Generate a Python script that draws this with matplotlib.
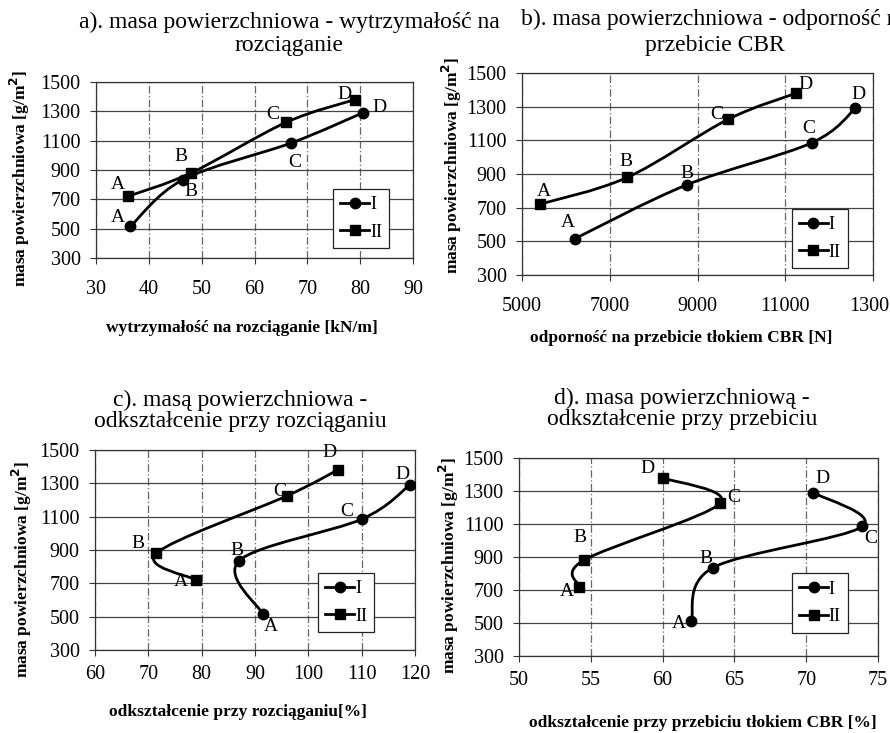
import matplotlib
matplotlib.use('Agg')
import matplotlib.pyplot as plt
import matplotlib.transforms as mtransforms
from matplotlib.path import Path
from matplotlib.patches import PathPatch
from matplotlib.lines import Line2D

plt.rcParams['font.family'] = ['Liberation Serif', 'DejaVu Serif']

# data
points = ['A', 'B', 'C', 'D']
mass_I = [515, 835, 1085, 1290]
mass_II = [720, 880, 1225, 1380]

strength_I = [36.5, 46.5, 67, 80.5]
strength_II = [36, 48, 66, 79]

cbr_I = [6200, 8750, 11600, 12600]
cbr_II = [5400, 7400, 9700, 11250]

elong_I = [91.5, 87, 110, 119]
elong_II = [79, 71.5, 96, 105.5]

cbr_elong_I = [62, 63.5, 73.9, 70.5]
cbr_elong_II = [54.2, 54.5, 64, 60]

y_ticks = [300, 500, 700, 900, 1100, 1300, 1500]

W, H = 890, 733
fig = plt.figure(figsize=(W / 100, H / 100), dpi=100)


def px_axes(l, t, r, b):
    return fig.add_axes([l / W, 1 - b / H, (r - l) / W, (b - t) / H])


def smooth_path(xs, ys):
    # Catmull-Rom through the data points, drawn as cubic bezier
    pts = list(zip(xs, ys))
    n = len(pts)
    verts = [pts[0]]
    codes = [Path.MOVETO]
    for i in range(n - 1):
        p0 = pts[i - 1] if i > 0 else pts[i]
        p1 = pts[i]
        p2 = pts[i + 1]
        p3 = pts[i + 2] if i + 2 < n else pts[i + 1]
        c1 = (p1[0] + (p2[0] - p0[0]) / 6, p1[1] + (p2[1] - p0[1]) / 6)
        c2 = (p2[0] - (p3[0] - p1[0]) / 6, p2[1] - (p3[1] - p1[1]) / 6)
        verts += [c1, c2, p2]
        codes += [Path.CURVE4] * 3
    return Path(verts, codes)


def panel(ax, x_I, x_II, xlim, xticks, xticklabels, offs_I, offs_II, leg_anchor, xpad):
    ax.set_xlim(*xlim)
    ax.set_ylim(300, 1500)
    ax.set_xticks(xticks)
    ax.set_xticklabels(xticklabels)
    ax.set_yticks(y_ticks)
    ax.tick_params(labelsize=14.5, direction='out', length=4, width=0.8, color='#333')
    ax.tick_params(axis='x', pad=xpad)
    ax.tick_params(axis='y', pad=7)
    ax.grid(axis='y', color='#444', linewidth=0.9, linestyle='-')
    ax.grid(axis='x', color='#666', linewidth=0.9, linestyle=(0, (6, 2, 1, 2)))
    for s in ax.spines.values():
        s.set_color('#333')
        s.set_linewidth(0.9)

    for xs, ys, mk, offs in [(x_I, mass_I, 'o', offs_I), (x_II, mass_II, 's', offs_II)]:
        ax.add_patch(PathPatch(smooth_path(xs, ys), facecolor='none',
                               edgecolor='black', linewidth=2.0, zorder=3))
        ax.plot(xs, ys, mk, color='black', markersize=7.5, zorder=4)
        for x, y, lab, (dx, dy) in zip(xs, ys, points, offs):
            ax.annotate(lab, (x, y), xytext=(dx * 0.72, -dy * 0.72),
                        textcoords='offset points', ha='center', va='center',
                        fontsize=14, zorder=5)

    handles = [Line2D([], [], color='black', lw=2, marker='o', ms=7.5),
               Line2D([], [], color='black', lw=2, marker='s', ms=7.5)]
    leg = ax.legend(handles, ['I', 'II'], loc='lower left', bbox_to_anchor=leg_anchor,
                    fontsize=13, handlelength=1.6, handletextpad=0.05,
                    labelspacing=0.6, borderpad=0.4, borderaxespad=0, fancybox=False,
                    framealpha=1, edgecolor='#222')
    leg.get_frame().set_linewidth(0.9)


# a)
ax_a = px_axes(96, 82, 413, 258)
panel(ax_a, strength_I, strength_II, (30, 90), [30, 40, 50, 60, 70, 80, 90],
      ['30', '40', '50', '60', '70', '80', '90'],
      [(-12, -9), (8, 12), (3, 20), (17, -5)],
      [(-10, -12), (-10, -16), (-13, -8), (-10, -5)],
      (0.748, 0.057), 12)

# b)
ax_b = px_axes(522, 73, 873, 275)
panel(ax_b, cbr_I, cbr_II, (5000, 13000), [5000, 7000, 9000, 11000, 13000],
      ['5000', '7000', '9000', '11000', '1300'],
      [(-7, -16), (0, -11), (-3, -14), (3, -14)],
      [(4, -13), (-1, -16), (-11, -5), (9, -9)],
      (0.768, 0.035), 12)
# last label sits a little left of its tick in the original
last = ax_b.get_xticklabels()[-1]
last.set_transform(last.get_transform() +
                   mtransforms.ScaledTranslation(-4 / 100, 0, fig.dpi_scale_trans))

# c)
ax_c = px_axes(95, 450, 415, 650)
panel(ax_c, elong_I, elong_II, (60, 120), [60, 70, 80, 90, 100, 110, 120],
      ['60', '70', '80', '90', '100', '110', '120'],
      [(8, 12), (-2, -10), (-15, -8), (-7, -10)],
      [(-15, 2), (-18, -10), (-7, -4), (-8, -17)],
      (0.697, 0.09), 7)

# d)
ax_d = px_axes(519, 458, 878, 656)
panel(ax_d, cbr_elong_I, cbr_elong_II, (50, 75), [50, 55, 60, 65, 70, 75],
      ['50', '55', '60', '65', '70', '75'],
      [(-12, 3), (-7, -9), (9, 12), (9, -14)],
      [(-12, 5), (-4, -23), (14, -6), (-15, -9)],
      (0.76, 0.118), 7)


def ftext(x, y, s, **kw):
    fig.text(x / W, 1 - y / H, s, **kw)


# titles
ftext(289, 34, 'a). masa powierzchniowa - wytrzymałość na\nrozciąganie',
      ha='center', va='center', fontsize=17, linespacing=1.1)
ftext(521, 19, 'b). masa powierzchniowa - odporność na', ha='left', va='center', fontsize=17)
ftext(715, 45, 'przebicie CBR', ha='center', va='center', fontsize=17)
ftext(240, 411, 'c). masą powierzchniowa -\nodkształcenie przy rozciąganiu',
      ha='center', va='center', fontsize=17, linespacing=1.0)
ftext(682, 409, 'd). masa powierzchniową -\nodkształcenie przy przebiciu',
      ha='center', va='center', fontsize=17, linespacing=1.0)

# y labels
ylab = 'masa powierzchniowa [g/m$^{\\mathbf{2}}$]'
for x, y in [(20, 178), (452, 165), (22, 569), (449, 565)]:
    ftext(x, y, ylab, rotation=90, ha='center', va='center', fontsize=12.5, fontweight='bold')

# x labels
ftext(242, 328, 'wytrzymałość na rozciąganie [kN/m]', ha='center', va='center',
      fontsize=12.5, fontweight='bold')
ftext(681, 338, 'odporność na przebicie tłokiem CBR [N]', ha='center', va='center',
      fontsize=12.5, fontweight='bold')
ftext(238, 712, 'odkształcenie przy rozciąganiu[%]', ha='center', va='center',
      fontsize=12.5, fontweight='bold')
ftext(703, 723, 'odkształcenie przy przebiciu tłokiem CBR [%]', ha='center', va='center',
      fontsize=12.5, fontweight='bold')

fig.savefig('out.png', dpi=100)
